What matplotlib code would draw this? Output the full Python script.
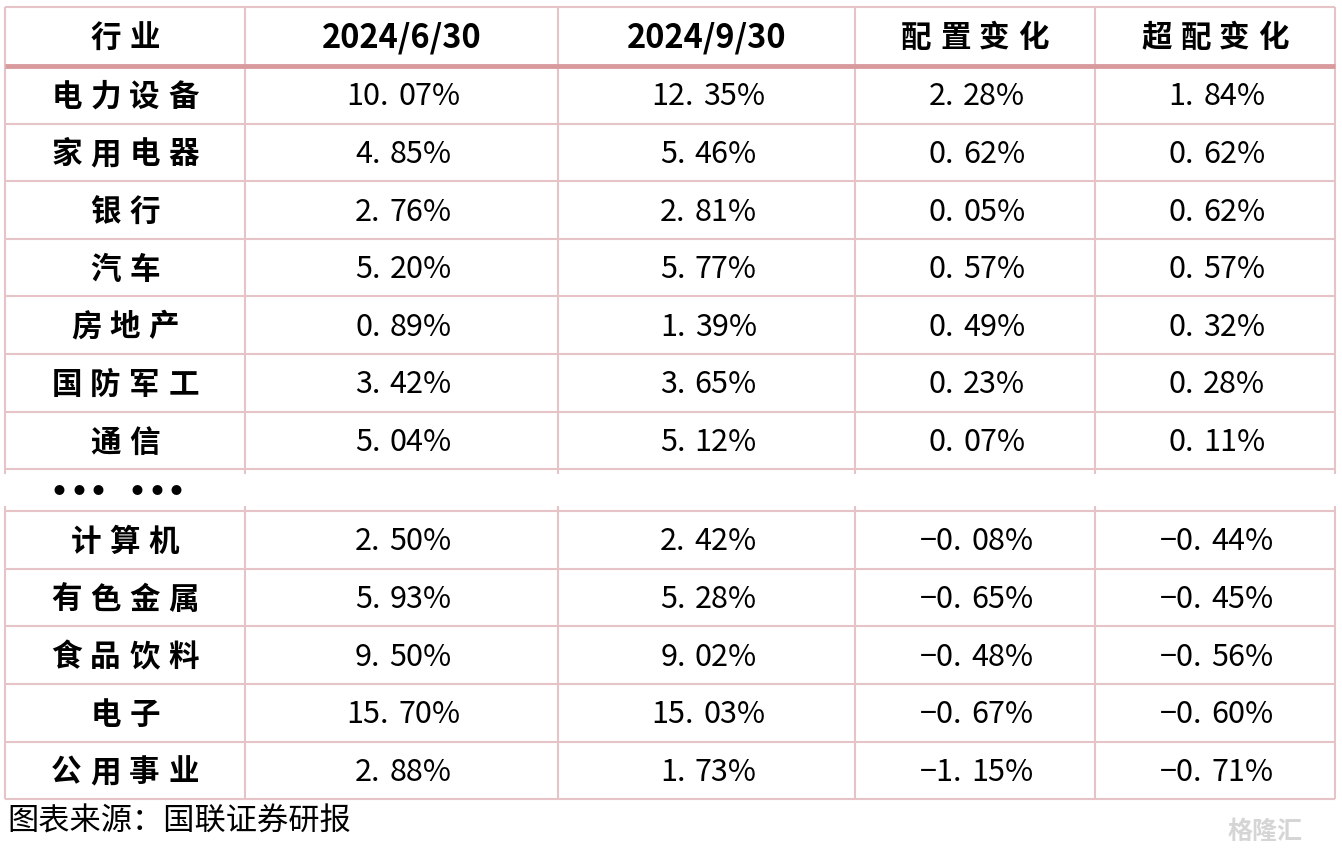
import matplotlib
matplotlib.use("Agg")
import matplotlib.pyplot as plt

plt.rcParams['font.family'] = ['Noto Sans CJK SC', 'DejaVu Sans']

# ---- data ----
header = ["行业", "2024/6/30", "2024/9/30", "配置变化", "超配变化"]
top_industries = ["电力设备", "家用电器", "银行", "汽车", "房地产", "国防军工", "通信"]
top_jun = ["10.07%", "4.85%", "2.76%", "5.20%", "0.89%", "3.42%", "5.04%"]
top_sep = ["12.35%", "5.46%", "2.81%", "5.77%", "1.39%", "3.65%", "5.12%"]
top_alloc = ["2.28%", "0.62%", "0.05%", "0.57%", "0.49%", "0.23%", "0.07%"]
top_over = ["1.84%", "0.62%", "0.62%", "0.57%", "0.32%", "0.28%", "0.11%"]

bot_industries = ["计算机", "有色金属", "食品饮料", "电子", "公用事业"]
bot_jun = ["2.50%", "5.93%", "9.50%", "15.70%", "2.88%"]
bot_sep = ["2.42%", "5.28%", "9.02%", "15.03%", "1.73%"]
bot_alloc = ["-0.08%", "-0.65%", "-0.48%", "-0.67%", "-1.15%"]
bot_over = ["-0.44%", "-0.45%", "-0.56%", "-0.60%", "-0.71%"]

source = "图表来源：国联证券研报"

# ---- layout (pixels) ----
W, H = 1342, 853
col_edges = [5, 245, 558, 855, 1095, 1335]
head_top, head_bot = 8, 67
row_h = 57.6
gap_h = 42
thin = "#e6c3c7"
thick = "#d99a9e"
cjk_pitch = 39     # wide letter spacing of the Chinese labels
dot_gap = 9        # extra room after the decimal point

fig = plt.figure(figsize=(W / 100, H / 100), dpi=100)
ax = fig.add_axes([0, 0, 1, 1])
ax.set_xlim(0, W)
ax.set_ylim(H, 0)
ax.axis("off")
renderer = fig.canvas.get_renderer()

centers = [(col_edges[i] + col_edges[i + 1]) / 2 for i in range(5)]


def spaced(x, y, s, pitch, **kw):
    # place characters one by one at a fixed pitch, centred on x
    n = len(s)
    for k, ch in enumerate(s):
        if ch == " ":
            continue
        ax.text(x + (k - (n - 1) / 2) * pitch, y, ch, ha="center", va="center", **kw)


def number(x, y, s, **kw):
    # split at the decimal point so the point gets a wide slot, as in the source
    i = s.index(".") + 1
    ta = ax.text(0, y, s[:i], ha="left", va="center", **kw)
    tb = ax.text(0, y, s[i:], ha="left", va="center", **kw)
    wa = ta.get_window_extent(renderer).width
    wb = tb.get_window_extent(renderer).width
    x0 = x - (wa + dot_gap + wb) / 2
    ta.set_x(x0)
    tb.set_x(x0 + wa + dot_gap)


# row boundaries
top_lines = [head_bot + i * row_h for i in range(len(top_industries) + 1)]
gap_top = top_lines[-1]
gap_bot = gap_top + gap_h
bot_lines = [gap_bot + i * row_h for i in range(len(bot_industries) + 1)]

# horizontal lines
ax.hlines(head_top, col_edges[0], col_edges[-1], color=thin, lw=1.5)
for y in top_lines[1:] + bot_lines:
    ax.hlines(y, col_edges[0], col_edges[-1], color=thin, lw=1.5)
ax.hlines(head_bot, col_edges[0], col_edges[-1], color=thick, lw=3.5, zorder=3)

# vertical lines (broken in the ellipsis row)
for x in col_edges:
    ax.vlines(x, head_top, gap_top + 5, color=thin, lw=1.5)
    ax.vlines(x, gap_bot - 5, bot_lines[-1], color=thin, lw=1.5)

# header
yh = (head_top + head_bot) / 2
for c, h in zip(centers, header):
    if h[0].isdigit():
        ax.text(c, yh, h, ha="center", va="center", fontsize=23.5, fontweight="bold")
    else:
        spaced(c, yh, h, cjk_pitch, fontsize=22, fontweight="bold")


def draw_rows(lines, names, *cols):
    for i, name in enumerate(names):
        yc = (lines[i] + lines[i + 1]) / 2 + 1
        spaced(centers[0], yc, name, cjk_pitch, fontsize=22, fontweight="bold")
        for j, col in enumerate(cols):
            number(centers[j + 1] + 2, yc, col[i].replace("-", "\u2212"), fontsize=22)


draw_rows(top_lines, top_industries, top_jun, top_sep, top_alloc, top_over)
draw_rows(bot_lines, bot_industries, bot_jun, bot_sep, bot_alloc, bot_over)

# ellipsis row
spaced(118, (gap_top + gap_bot) / 2, "●●● ●●●", 19.5, fontsize=8)

# source note and watermark
ax.text(7, 822, source, ha="left", va="center", fontsize=22.5)
ax.text(1302, 832, "格隆汇", ha="right", va="center", fontsize=18,
        color="#d5d5d5", fontweight="bold")

fig.savefig("out.png", dpi=100)
